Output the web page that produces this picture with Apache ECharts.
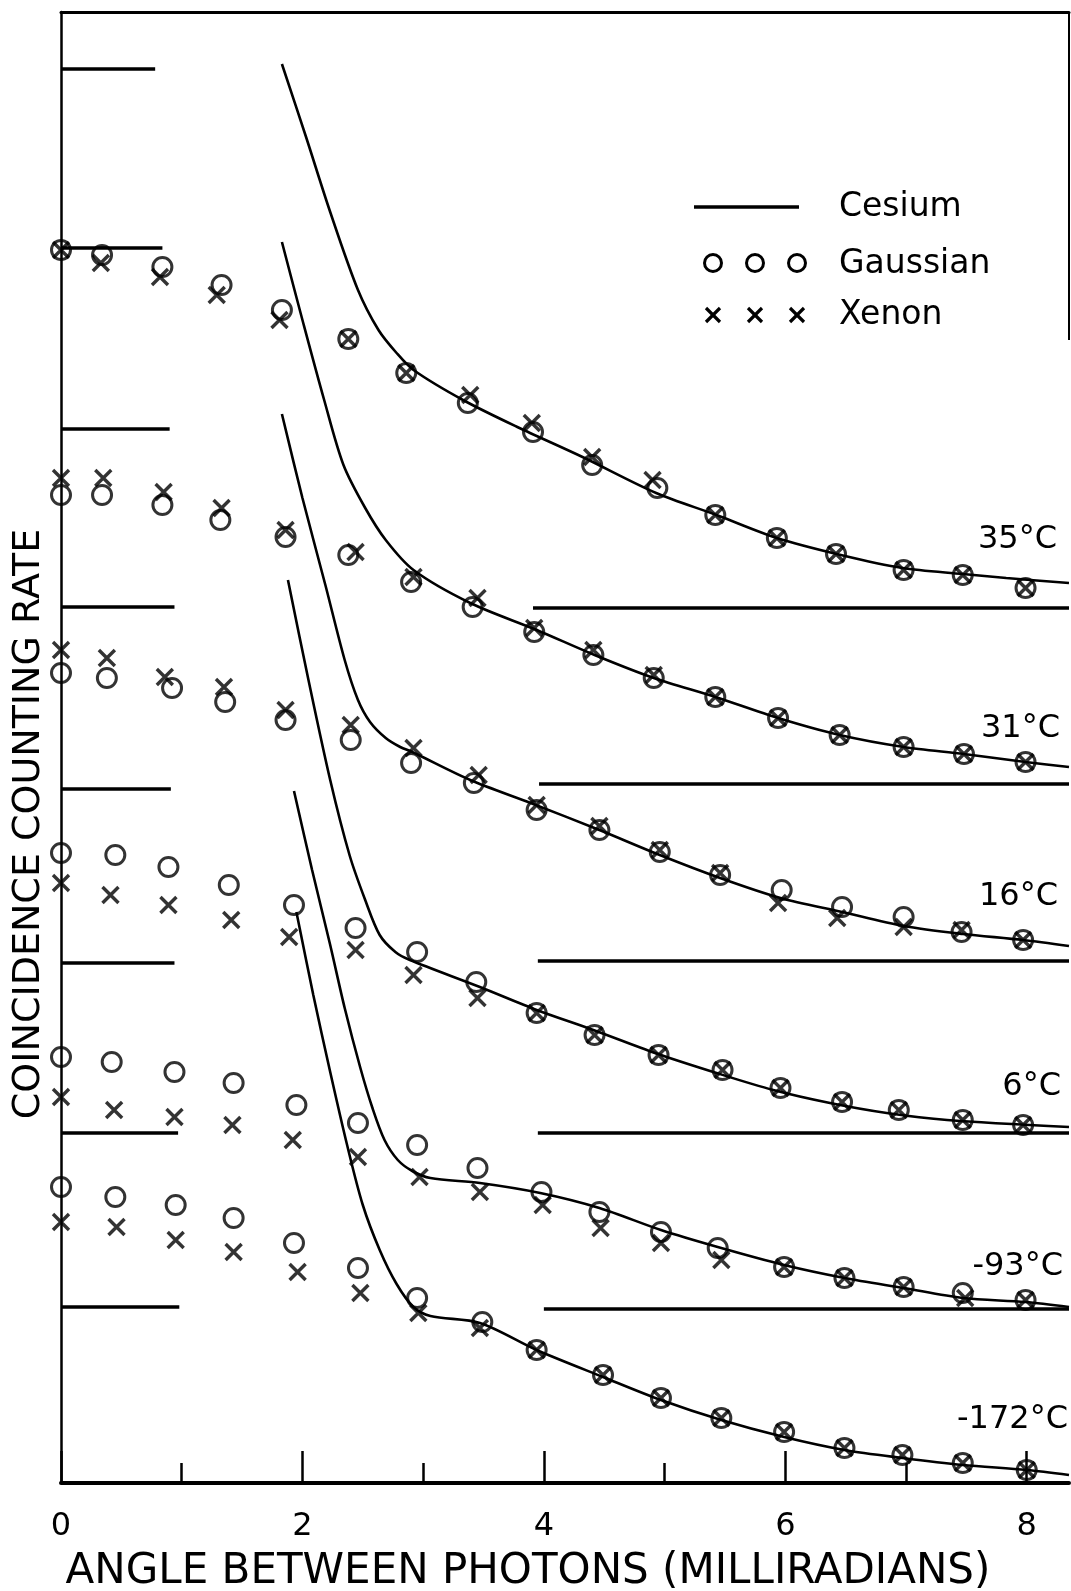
<!DOCTYPE html>
<html>
<head>
<meta charset="utf-8">
<title>Coincidence counting rate</title>
<script src="https://cdn.jsdelivr.net/npm/echarts@6/dist/echarts.min.js"></script>
<style>
  html, body { margin: 0; padding: 0; background: #fff; }
  #chart { width: 1071px; height: 1591px; }
</style>
</head>
<body>
<div id="chart"></div>
<script>
// angle (milliradians) vs coincidence rate, arbitrary units; each temperature sits on its own baseline
const temps = ["35°C", "31°C", "16°C", "6°C", "-93°C", "-172°C"];
const xTicksMajor = [0, 2, 4, 6, 8];
const xTicksMinor = [1, 3, 5, 7];
const X_MAX = 8.35;
const Y_MAX = 147.1;

// cesium curves (solid lines)
const cesium35 = [[1.83,141.9],[2.03,134.6],[2.23,127.1],[2.46,119.3],[2.63,115.3],[2.78,113.0],[2.92,111.3],[3.33,108.3],[3.78,105.6],[4.32,102.6],[4.93,99.0],[5.43,96.8],[5.93,94.5],[6.46,92.8],[6.97,91.5],[7.47,90.9],[7.83,90.5],[8.35,90.0]];
const cesium31 = [[1.83,124.1],[2.00,116.3],[2.18,108.3],[2.34,101.8],[2.52,97.5],[2.69,94.3],[2.92,91.3],[3.39,88.0],[3.94,85.3],[4.42,82.8],[4.91,80.5],[5.42,78.6],[5.94,76.5],[6.45,74.8],[6.98,73.6],[7.48,72.9],[7.99,72.1],[8.35,71.6]];
const cesium16 = [[1.83,106.9],[2.00,98.5],[2.19,89.8],[2.35,82.3],[2.46,78.3],[2.56,76.1],[2.69,74.5],[2.81,73.6],[2.91,73.1],[3.39,70.3],[3.89,68.0],[4.46,65.3],[4.96,62.8],[5.46,60.5],[5.96,58.5],[6.47,57.1],[6.98,55.7],[7.47,54.9],[7.97,54.3],[8.35,53.7]];
const cesium6 = [[1.88,90.3],[2.05,80.3],[2.23,70.3],[2.39,62.8],[2.52,58.3],[2.64,54.8],[2.77,53.1],[2.89,52.3],[3.47,49.6],[3.94,47.3],[4.41,45.3],[4.92,43.0],[5.43,41.0],[5.90,39.3],[6.37,38.0],[6.84,37.0],[7.34,36.3],[8.35,35.6]];
const cesiumM93 = [[1.93,69.2],[2.08,61.3],[2.23,53.8],[2.35,47.5],[2.48,41.5],[2.58,37.5],[2.68,34.3],[2.79,32.3],[2.91,31.2],[3.06,30.5],[3.47,30.0],[3.97,29.0],[4.46,27.5],[4.97,25.3],[5.44,23.6],[5.99,21.8],[6.49,20.5],[6.98,19.5],[7.47,18.5],[7.99,18.1],[8.35,17.6]];
const cesiumM172 = [[1.95,57.1],[2.09,48.8],[2.23,41.1],[2.37,33.8],[2.50,27.8],[2.64,23.3],[2.78,19.9],[2.92,17.6],[3.06,16.7],[3.47,16.0],[3.94,13.3],[4.49,10.6],[4.97,8.3],[5.47,6.3],[5.99,4.6],[6.49,3.3],[6.97,2.5],[7.47,1.8],[8.00,1.3],[8.35,0.8]];

// gaussian points (circles)
const gauss35 = [[0,123.3],[0.34,122.8],[0.84,121.6],[1.33,119.8],[1.83,117.3],[2.38,114.4],[2.86,111.0],[3.37,108.0],[3.91,105.1],[4.40,101.8],[4.94,99.5],[5.42,96.8],[5.93,94.5],[6.42,92.9],[6.98,91.3],[7.47,90.8],[7.99,89.5]];
const gauss31 = [[0,98.8],[0.34,98.8],[0.84,97.8],[1.32,96.3],[1.86,94.6],[2.38,92.8],[2.90,90.1],[3.41,87.6],[3.92,85.1],[4.41,82.8],[4.91,80.5],[5.42,78.6],[5.94,76.5],[6.45,74.8],[6.98,73.6],[7.48,72.9],[7.99,72.1]];
const gauss16 = [[0,81.0],[0.38,80.5],[0.92,79.5],[1.36,78.1],[1.86,76.3],[2.40,74.3],[2.90,72.0],[3.42,70.0],[3.94,67.3],[4.46,65.3],[4.96,63.1],[5.46,60.8],[5.97,59.3],[6.47,57.6],[6.98,56.6],[7.46,55.1],[7.97,54.3]];
const gauss6 = [[0,63.0],[0.45,62.8],[0.89,61.6],[1.39,59.8],[1.93,57.8],[2.44,55.5],[2.95,53.1],[3.44,50.1],[3.94,47.0],[4.42,44.8],[4.95,42.8],[5.48,41.3],[5.96,39.5],[6.47,38.1],[6.94,37.3],[7.47,36.3],[7.97,35.8]];
const gaussM93 = [[0,42.6],[0.42,42.1],[0.94,41.1],[1.43,40.0],[1.95,37.8],[2.46,36.0],[2.95,33.8],[3.45,31.5],[3.98,29.1],[4.46,27.1],[4.97,25.1],[5.44,23.5],[5.99,21.6],[6.49,20.5],[6.98,19.6],[7.47,19.0],[7.99,18.3]];
const gaussM172 = [[0,29.6],[0.45,28.6],[0.95,27.8],[1.43,26.5],[1.93,24.0],[2.46,21.5],[2.95,18.5],[3.49,16.1],[3.94,13.3],[4.49,10.8],[4.97,8.5],[5.47,6.5],[5.99,5.1],[6.49,3.5],[6.97,2.8],[7.47,2.0],[8.00,1.3]];

// xenon points (crosses)
const xenon35 = [[0,123.3],[0.33,122.0],[0.82,120.6],[1.29,118.8],[1.81,116.3],[2.38,114.4],[2.86,111.0],[3.39,108.8],[3.90,106.0],[4.40,102.6],[4.90,100.3],[5.42,96.8],[5.93,94.5],[6.42,92.9],[6.98,91.3],[7.47,90.8],[7.99,89.5]];
const xenon31 = [[0,100.5],[0.35,100.5],[0.85,99.1],[1.33,97.5],[1.86,95.3],[2.44,93.1],[2.92,90.6],[3.45,88.5],[3.92,85.5],[4.41,83.3],[4.91,80.8],[5.42,78.6],[5.94,76.5],[6.45,74.8],[6.98,73.6],[7.48,72.9],[7.99,72.1]];
const xenon16 = [[0,83.3],[0.38,82.5],[0.86,80.6],[1.35,79.6],[1.86,77.3],[2.40,75.8],[2.92,73.5],[3.46,70.8],[3.94,67.8],[4.46,65.7],[4.96,63.3],[5.46,61.0],[5.94,58.0],[6.43,56.5],[6.98,55.6],[7.46,55.3],[7.97,54.3]];
const xenon6 = [[0,60.0],[0.41,58.8],[0.89,57.8],[1.41,56.3],[1.89,54.6],[2.44,53.3],[2.92,50.8],[3.45,48.5],[3.94,47.0],[4.42,44.8],[4.95,42.8],[5.48,41.3],[5.96,39.5],[6.47,38.1],[6.94,37.3],[7.47,36.3],[7.97,35.8]];
const xenonM93 = [[0,38.6],[0.44,37.3],[0.94,36.6],[1.42,35.8],[1.92,34.3],[2.46,32.6],[2.97,30.6],[3.47,29.1],[3.99,27.8],[4.47,25.5],[4.97,24.0],[5.47,22.3],[5.99,21.6],[6.49,20.5],[6.98,19.6],[7.49,18.5],[7.99,18.3]];
const xenonM172 = [[0,26.1],[0.46,25.6],[0.95,24.3],[1.43,23.1],[1.96,21.1],[2.48,19.0],[2.96,17.0],[3.47,15.5],[3.94,13.3],[4.49,10.8],[4.97,8.5],[5.47,6.5],[5.99,5.1],[6.49,3.5],[6.97,2.8],[7.47,2.0],[8.00,1.3]];

// reference levels: short ones from the y axis, long ones running out to the right edge
const leftLevels = [141.4, 123.5, 105.4, 87.6, 69.4, 52.0, 35.0, 17.6];
const leftEnds = [0.78, 0.84, 0.90, 0.94, 0.91, 0.94, 0.97, 0.98];
const rightLevels = [87.5, 69.9, 52.2, 35.0, 17.4];
const rightStarts = [3.91, 3.96, 3.95, 3.95, 4.00];

const cesium = [cesium35, cesium31, cesium16, cesium6, cesiumM93, cesiumM172];
const gauss = [gauss35, gauss31, gauss16, gauss6, gaussM93, gaussM172];
const xenon = [xenon35, xenon31, xenon16, xenon6, xenonM93, xenonM172];

const FONT = "DejaVu Sans";
const CROSS = "path://M0,0L10,10M10,0L0,10";

let myChart = echarts.init(document.getElementById("chart"));

let series = [];
// level lines
leftLevels.forEach(function (y, i) {
  series.push({
    type: "line", data: [[0, y], [leftEnds[i], y]], showSymbol: false, silent: true,
    lineStyle: { color: "#000", width: 3.5 }
  });
});
rightLevels.forEach(function (y, i) {
  series.push({
    type: "line", data: [[rightStarts[i], y], [X_MAX, y]], showSymbol: false, silent: true,
    lineStyle: { color: "#000", width: 3.5 }
  });
});
temps.forEach(function (t, i) {
  series.push({
    name: "Cesium " + t, type: "line", data: cesium[i], smooth: 0.3, showSymbol: false,
    lineStyle: { color: "#000", width: 2.6 }
  });
  series.push({
    name: "Gaussian " + t, type: "scatter", data: gauss[i], symbol: "circle", symbolSize: 19,
    itemStyle: { color: "rgba(0,0,0,0)", borderColor: "#000", borderWidth: 3 }
  });
  series.push({
    name: "Xenon " + t, type: "scatter", data: xenon[i], symbol: CROSS, symbolSize: 16,
    itemStyle: { color: "rgba(0,0,0,0)", borderColor: "#000", borderWidth: 3.4 }
  });
});

// temperature tags, right aligned near the frame
const tagPos = [[1057, 540], [1060, 729], [1058, 897], [1061, 1087], [1063, 1267], [1068, 1420]];
let graphics = temps.map(function (t, i) {
  return {
    type: "text", x: tagPos[i][0], y: tagPos[i][1],
    style: { text: t, font: "32px '" + FONT + "'", fill: "#000", align: "right", verticalAlign: "middle" }
  };
});

// legend drawn by hand, like the original
graphics.push({ type: "line", shape: { x1: 694, y1: 207, x2: 799, y2: 207 }, style: { stroke: "#000", lineWidth: 3.5 } });
[713, 755, 797].forEach(function (cx) {
  graphics.push({ type: "circle", shape: { cx: cx, cy: 263, r: 8.5 }, style: { fill: "none", stroke: "#000", lineWidth: 3 } });
  graphics.push({ type: "polyline", shape: { points: [[cx - 7, 308], [cx + 7, 322]] }, style: { stroke: "#000", lineWidth: 3.2 } });
  graphics.push({ type: "polyline", shape: { points: [[cx + 7, 308], [cx - 7, 322]] }, style: { stroke: "#000", lineWidth: 3.2 } });
});
[["Cesium", 207], ["Gaussian", 264], ["Xenon", 315]].forEach(function (l) {
  graphics.push({
    type: "text", x: 839, y: l[1],
    style: { text: l[0], font: "33px '" + FONT + "'", fill: "#000", align: "left", verticalAlign: "middle" }
  });
});

// axis titles
graphics.push({
  type: "text", x: 528, y: 1572,
  style: { text: "ANGLE BETWEEN PHOTONS (MILLIRADIANS)", font: "42px '" + FONT + "'", fill: "#000", align: "center", verticalAlign: "middle" }
});
graphics.push({
  type: "text", x: 29, y: 824, rotation: Math.PI / 2,
  style: { text: "COINCIDENCE COUNTING RATE", font: "38px '" + FONT + "'", fill: "#000", align: "center", verticalAlign: "middle" }
});
// right edge of the frame (only the upper part survives in the scan)
graphics.push({ type: "line", shape: { x1: 1069, y1: 12, x2: 1069, y2: 340 }, style: { stroke: "#000", lineWidth: 2 } });

let option = {
  animation: false,
  backgroundColor: "#fff",
  grid: { left: 61, right: 2, top: 12, bottom: 108 },
  xAxis: [
    {
      type: "value", min: 0, max: X_MAX, position: "bottom",
      axisLine: { lineStyle: { color: "#000", width: 4 } },
      axisTick: { inside: true, length: 32, customValues: xTicksMajor, lineStyle: { color: "#000", width: 2.5 } },
      axisLabel: { customValues: xTicksMajor, color: "#000", fontFamily: FONT, fontSize: 32, margin: 28 },
      splitLine: { show: false }
    },
    {
      type: "value", min: 0, max: X_MAX, position: "bottom",
      axisLine: { show: false },
      axisTick: { inside: true, length: 20, customValues: xTicksMinor, lineStyle: { color: "#000", width: 2.5 } },
      axisLabel: { show: false },
      splitLine: { show: false }
    },
    {
      type: "value", min: 0, max: X_MAX, position: "top",
      axisLine: { lineStyle: { color: "#000", width: 3 } },
      axisTick: { show: false }, axisLabel: { show: false }, splitLine: { show: false }
    }
  ],
  yAxis: {
    type: "value", min: 0, max: Y_MAX,
    axisLine: { show: true, lineStyle: { color: "#000", width: 2.5 } },
    axisTick: { show: false }, axisLabel: { show: false }, splitLine: { show: false }
  },
  series: series,
  graphic: graphics
};

myChart.setOption(option);
</script>
</body>
</html>
